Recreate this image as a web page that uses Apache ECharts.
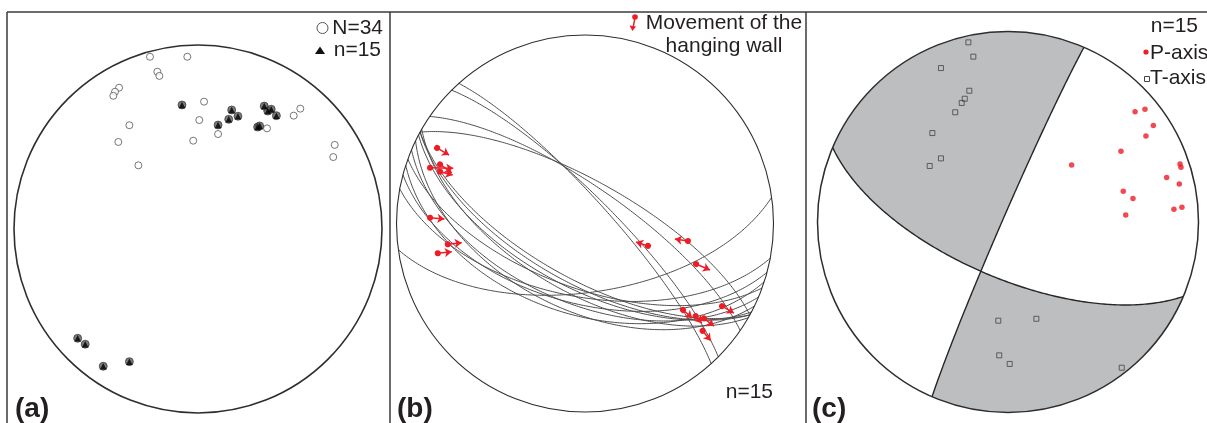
<!DOCTYPE html>
<html><head><meta charset="utf-8">
<script src="https://cdn.jsdelivr.net/npm/echarts@6/dist/echarts.min.js"></script>
<style>html,body{margin:0;padding:0;background:#fff}#c{width:1207px;height:423px}</style>
</head><body><div id="c"></div>
<script>
// ---------- DATA (net coordinates: unit primitive circle, x = east, y = north) ----------
// Panel (a): poles
const aOpen = [[-0.261,0.936],[-0.058,0.936],[-0.221,0.855],[-0.210,0.832],[-0.429,0.768],[-0.451,0.746],[-0.460,0.724],[0.033,0.692],[0.007,0.592],[-0.373,0.564],[-0.433,0.473],[-0.026,0.480],[0.109,0.516],[-0.324,0.346],[0.556,0.654],[0.520,0.616],[0.375,0.547],[0.743,0.457],[0.735,0.391]];
const aFilled = [[-0.087,0.674],[0.183,0.647],[0.167,0.596],[0.217,0.613],[0.109,0.565],[0.360,0.668],[0.379,0.641],[0.398,0.651],[0.426,0.616],[0.324,0.554],[0.335,0.560],[-0.654,-0.594],[-0.613,-0.626],[-0.515,-0.746],[-0.373,-0.721]];
// Panel (b): fault planes [dip direction, dip] and hanging-wall slip arrows [x0,y0,x1,y1]
const bPlanes = [[48,79.6],[45,78.2],[34.6,74],[29,71.4],[172,60],[209,64],[209,66],[208,62],[210,60],[203,55],[206,52],[198,50],[195,55],[190.6,58],[200,62]];
const bSlip = [[-0.785,0.401,-0.721,0.363],[-0.822,0.296,-0.699,0.293],[-0.769,0.314,-0.707,0.269],[-0.769,0.275,-0.702,0.257],[-0.822,0.031,-0.746,0.024],[-0.728,-0.110,-0.654,-0.102],[-0.781,-0.158,-0.707,-0.150],[0.334,-0.119,0.271,-0.098],[0.546,-0.093,0.477,-0.082],[0.589,-0.215,0.663,-0.247],[0.727,-0.438,0.790,-0.475],[0.520,-0.459,0.568,-0.501],[0.587,-0.491,0.619,-0.529],[0.631,-0.503,0.684,-0.544],[0.624,-0.569,0.667,-0.622]];
// Panel (c): nodal planes [dip direction, dip], P and T axes
const cNodal = [[293.5,87.6],[203,66]];
const cP = [[0.667,0.579],[0.719,0.592],[0.763,0.506],[0.724,0.451],[0.593,0.371],[0.334,0.299],[0.903,0.304],[0.908,0.287],[0.833,0.233],[0.899,0.199],[0.605,0.161],[0.656,0.124],[0.871,0.067],[0.913,0.077],[0.618,0.037]];
const cT = [[-0.208,0.943],[-0.182,0.868],[-0.352,0.808],[-0.203,0.689],[-0.227,0.647],[-0.243,0.625],[-0.277,0.576],[-0.397,0.467],[-0.352,0.334],[-0.411,0.294],[-0.051,-0.518],[0.149,-0.508],[-0.046,-0.700],[0.009,-0.745],[0.597,-0.765]];
const labels = {a:['N=34','n=15'], b:['Movement of the','hanging wall','n=15'], c:['n=15','P-axis','T-axis']};

// ---------- geometry helpers (lower hemisphere equal-area) ----------
const R = Math.PI/180;
function planeVecs(dd, dip){
  const st=(dd-90)*R, d=dd*R, p=dip*R;
  return {s:[Math.sin(st),Math.cos(st),0], d:[Math.sin(d)*Math.cos(p),Math.cos(d)*Math.cos(p),Math.sin(p)]};
}
function onPlane(pv, th){const c=Math.cos(th*R), s=Math.sin(th*R);return [c*pv.s[0]+s*pv.d[0],c*pv.s[1]+s*pv.d[1],c*pv.s[2]+s*pv.d[2]];}
function proj(v){let [e,n,z]=v; if(z<0){e=-e;n=-n;z=-z;} const k=1/Math.sqrt(1+z); return [e*k,n*k];}
function cross(a,b){return [a[1]*b[2]-a[2]*b[1],a[2]*b[0]-a[0]*b[2],a[0]*b[1]-a[1]*b[0]];}
function dot(a,b){return a[0]*b[0]+a[1]*b[1]+a[2]*b[2];}
function arcPts(pv,t0,t1,api){const out=[];const n=Math.max(2,Math.ceil(Math.abs(t1-t0)));for(let i=0;i<=n;i++){out.push(api.coord(proj(onPlane(pv,t0+(t1-t0)*i/n))));}return out;}
function primPts(a0,a1,api){const out=[];const n=Math.max(2,Math.ceil(Math.abs(a1-a0)));for(let i=0;i<=n;i++){const t=(a0+(a1-a0)*i/n)*R;out.push(api.coord([Math.sin(t),Math.cos(t)]));}return out;}

const chart = echarts.init(document.getElementById('c'), null, {renderer:'canvas'});
const FONT = '"Liberation Sans", Arial, sans-serif';
const grids = [
  {left:14, top:45, width:368, height:368},
  {left:396.5, top:35, width:377, height:377},
  {left:817.5, top:31.5, width:381, height:381}
];
const ax = i => ({gridIndex:i, type:'value', min:-1, max:1, show:false});

function primitive(i, lw){
  return {type:'custom', xAxisIndex:i, yAxisIndex:i, data:[[0,0]], z:5, silent:true,
    renderItem:(p,api)=>{const c=api.coord([0,0]), e=api.coord([1,0]);
      return {type:'circle', shape:{cx:c[0],cy:c[1],r:e[0]-c[0]}, style:{fill:'none', stroke:'#2e2e2e', lineWidth:lw}};}};
}

const series = [
  // (a)
  primitive(0,1.6),
  {type:'scatter', xAxisIndex:0, yAxisIndex:0, data:aOpen, symbol:'circle', symbolSize:7, z:6,
   itemStyle:{color:'#fff', borderColor:'#555', borderWidth:1}},
  {type:'scatter', xAxisIndex:0, yAxisIndex:0, data:aFilled, symbol:'circle', symbolSize:8, z:6,
   itemStyle:{color:'#5a5a5a', borderColor:'#2a2a2a', borderWidth:0.8}},
  {type:'scatter', xAxisIndex:0, yAxisIndex:0, data:aFilled, symbol:'triangle', symbolSize:6.5, z:7,
   itemStyle:{color:'#000'}},
  // (b)
  {type:'custom', xAxisIndex:1, yAxisIndex:1, data:bPlanes, z:4, silent:true,
   renderItem:(p,api)=>{const pv=planeVecs(api.value(0),api.value(1));
     return {type:'polyline', shape:{points:arcPts(pv,0,180,api)}, style:{fill:'none', stroke:'#4d4d4d', lineWidth:1}};}},
  primitive(1,1.1),
  {type:'lines', coordinateSystem:'cartesian2d', xAxisIndex:1, yAxisIndex:1, z:8,
   symbol:['circle','arrow'], symbolSize:[6,7],
   lineStyle:{color:'#ee1c25', width:1.5, curveness:0, opacity:1},
   data:bSlip.map(a=>({coords:[[a[0],a[1]],[a[2],a[3]]]}))},
  // (c)
  {type:'custom', xAxisIndex:2, yAxisIndex:2, data:[[0,0]], z:3, silent:true,
   renderItem:(p,api)=>{
     const p1=planeVecs(cNodal[0][0],cNodal[0][1]), p2=planeVecs(cNodal[1][0],cNodal[1][1]);
     let B=cross(cross(p1.s,p1.d),cross(p2.s,p2.d)); if(B[2]<0)B=B.map(v=>-v);
     const t1=Math.atan2(dot(B,p1.d),dot(B,p1.s))/R, t2=Math.atan2(dot(B,p2.d),dot(B,p2.s))/R;
     const s1=cNodal[0][0]-90, s2=cNodal[1][0]-90;
     let a0=s1+180, a1=s2+180; while(a1>a0)a1-=360;
     const q1=[].concat(arcPts(p2,180,t2,api),arcPts(p1,t1,180,api),primPts(a0,a1,api));
     let b0=s1, b1=s2; while(b1>b0)b1-=360;
     const q2=[].concat(arcPts(p1,t1,0,api),primPts(b0,b1,api),arcPts(p2,0,t2,api));
     return {type:'group', children:[
       {type:'polygon', shape:{points:q1}, style:{fill:'#bdbec0', stroke:'none'}},
       {type:'polygon', shape:{points:q2}, style:{fill:'#bdbec0', stroke:'none'}}]};
   }},
  {type:'custom', xAxisIndex:2, yAxisIndex:2, data:cNodal, z:4, silent:true,
   renderItem:(p,api)=>{const pv=planeVecs(api.value(0),api.value(1));
     return {type:'polyline', shape:{points:arcPts(pv,0,180,api)}, style:{fill:'none', stroke:'#262626', lineWidth:1.4}};}},
  primitive(2,1.5),
  {type:'scatter', xAxisIndex:2, yAxisIndex:2, data:cT, symbol:'rect', symbolSize:5, z:6,
   itemStyle:{color:'rgba(0,0,0,0)', borderColor:'#444', borderWidth:1}},
  {type:'scatter', xAxisIndex:2, yAxisIndex:2, data:cP, symbol:'circle', symbolSize:5.5, z:6,
   itemStyle:{color:'#ee1c25'}}
];

const txt = (x,y,text,opt={}) => ({type:'text', x, y, z:20, silent:true,
  style:Object.assign({text, font:'21px '+FONT, fill:'#231f20', align:'left', verticalAlign:'middle'}, opt)});
const ln = (x1,y1,x2,y2,lw,col) => ({type:'line', z:20, silent:true, shape:{x1,y1,x2,y2}, style:{stroke:col||'#3a3a3a', lineWidth:lw||1.5}});

const graphic = [
  ln(7,12,1207,12), ln(7,12,7,423), ln(390,12,390,423), ln(806,12,806,423),
  {type:'circle', z:20, shape:{cx:322.5,cy:28,r:5.5}, style:{fill:'#fff', stroke:'#555', lineWidth:1}},
  {type:'polygon', z:20, shape:{points:[[320,46.5],[325,54],[315,54]]}, style:{fill:'#111'}},
  txt(383,28,labels.a[0],{align:'right'}), txt(381,50,labels.a[1],{align:'right'}),
  txt(15,409,'(a)',{font:'bold 28px '+FONT}),
  {type:'circle', z:20, shape:{cx:635,cy:17,r:2.8}, style:{fill:'#ee1c25'}},
  ln(635,17,633,29,1.5,'#ee1c25'),
  {type:'polygon', z:20, shape:{points:[[632.5,31],[629.5,25.5],[636,26.5]]}, style:{fill:'#ee1c25'}},
  txt(724,23,labels.b[0],{align:'center'}), txt(724,46,labels.b[1],{align:'center'}),
  txt(773,392,labels.b[2],{align:'right'}),
  txt(397,409,'(b)',{font:'bold 28px '+FONT}),
  txt(1198,26,labels.c[0],{align:'right'}),
  {type:'circle', z:20, shape:{cx:1146,cy:52,r:2.6}, style:{fill:'#ee1c25'}},
  txt(1150,53,labels.c[1]),
  {type:'rect', z:20, shape:{x:1144.5,y:76.5,width:5,height:5}, style:{fill:'none', stroke:'#444', lineWidth:1}},
  txt(1150,78,labels.c[2]),
  txt(812,409,'(c)',{font:'bold 28px '+FONT})
];

chart.setOption({
  animation:false,
  grid:grids,
  xAxis:[ax(0),ax(1),ax(2)],
  yAxis:[ax(0),ax(1),ax(2)],
  series, graphic
});
</script></body></html>
